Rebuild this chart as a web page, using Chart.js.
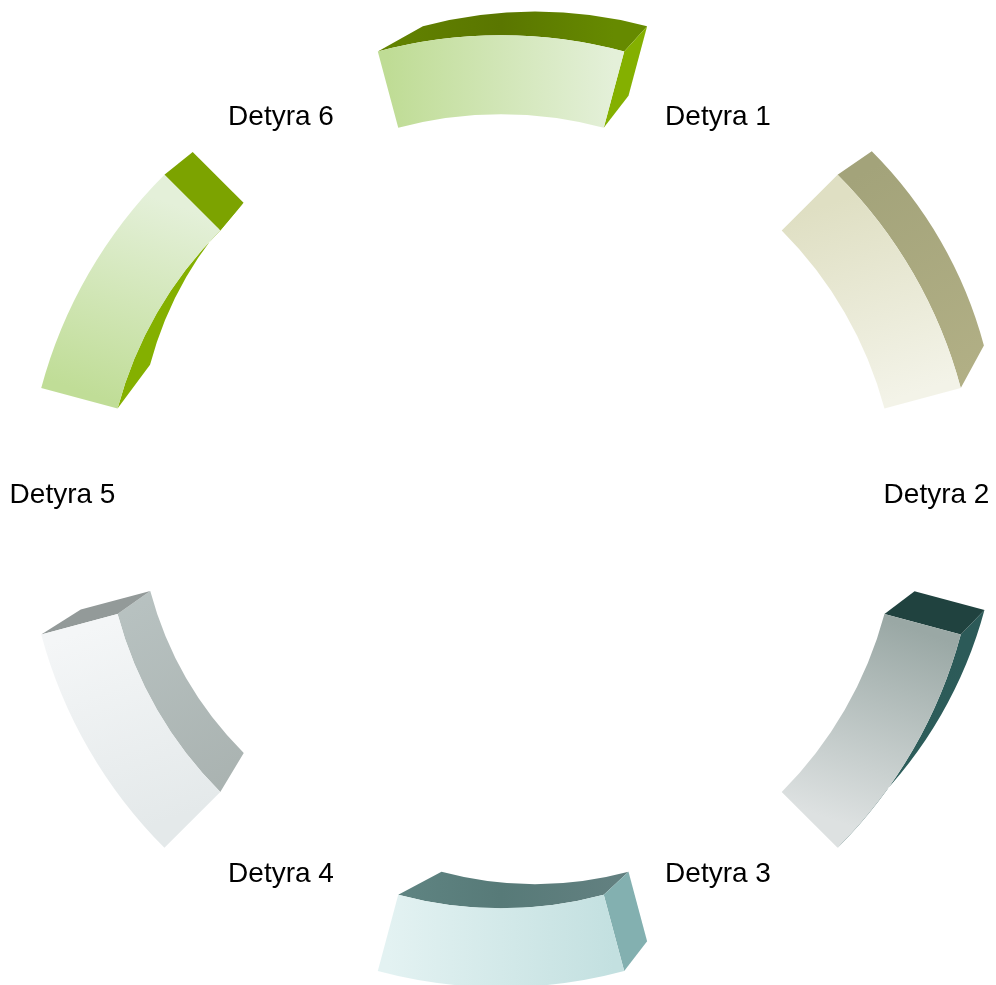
<!DOCTYPE html>
<html>
<head>
<meta charset="utf-8">
<style>
html,body{margin:0;padding:0;background:#fff;overflow:hidden}
canvas{display:block}
</style>
<script src="https://cdn.jsdelivr.net/npm/chart.js@4"></script>
</head>
<body>
<canvas id="c" width="996" height="985"></canvas>
<script>
const categories = ['Detyra 1','Detyra 2','Detyra 3','Detyra 4','Detyra 5','Detyra 6'];
const segmentValues = [1,1,1,1,1,1];
const gapValues = [1,1,1,1,1,1];

// front-face gradients, from slice start angle to slice end angle
const frontColors = [
  ['#bfdc95','#e4f0d9'],
  ['#dfdfc3','#f3f3e8'],
  ['#9aa8a5','#dde1e1'],
  ['#c3e0e0','#e3f2f2'],
  ['#e4e9ea','#f4f6f7'],
  ['#c0dd97','#e4f0d9']
];
// how much of the horizontal run each front gradient keeps
const gradientLean = [1,0.6,0.6,1,0.6,0.6];
// side faces of each extruded slice (null: hidden)
const outerFaceColors = [['#628200','#5a7600','#668a00'],['#a3a37a','#b1af85'],['#2c5a58','#2e5f5c'],null,null,null];
const innerFaceColors = [null,null,null,['#628080','#577a78','#608583'],['#a9b2b0','#b8c2c1'],['#84b000','#84b000']];
const startCapColors = [null,null,'#20423f','#83b0b0',null,null];
const endCapColors = ['#84b000',null,null,null,'#939a99','#7ca300'];
// where the far side of each slice sits relative to its near side
const depthShiftX = [34,64.5,62.3,34,-1.8,-2];
const depthShiftY = [-66.5,-53.6,-14,11.5,-13.8,-53];
const depthScale = [0.91,0.91,0.916,0.91,0.91,0.91];
const labelRadius = 437, labelShiftX = -1.5, labelShiftY = -15.7;

const sliceValues = segmentValues.flatMap((v,i)=>[v,gapValues[i]]);
const sliceLabels = categories.flatMap(c=>['',c]);

function grad(ctx,x0,y0,x1,y1,stops){
  const g = ctx.createLinearGradient(x0,y0,x1,y1);
  stops.forEach((s,i)=>g.addColorStop(i/(stops.length-1),s));
  return g;
}

const ring3d = {
  id:'ring3d',
  beforeDatasetsDraw(chart){
    const ctx = chart.ctx;
    const arcs = chart.getDatasetMeta(0).data;
    categories.forEach((_,i)=>{
      const arc = arcs[i*2];
      const {x,y,startAngle:a0,endAngle:a1,innerRadius:ri,outerRadius:ro} = arc.getProps(['x','y','startAngle','endAngle','innerRadius','outerRadius'],true);
      const bx = x+depthShiftX[i], by = y+depthShiftY[i];
      const bo = ro*depthScale[i], bi = ri*depthScale[i];
      const pt = (cx,cy,r,a)=>[cx+r*Math.cos(a),cy+r*Math.sin(a)];
      const rm = (ro+ri)/2;
      const [sx,sy] = pt(x,y,rm,a0), [ex,ey] = pt(x,y,rm,a1);
      // front face gradient follows the slice, leaning towards the vertical
      const mx = (sx+ex)/2, hw = (ex-sx)/2*gradientLean[i];
      arc.options = Object.assign({},arc.options,{backgroundColor:grad(ctx,mx-hw,sy,mx+hw,ey,frontColors[i]),borderWidth:0});
      ctx.save();
      const fillFace = (fill,path)=>{ctx.beginPath();path();ctx.closePath();ctx.fillStyle=fill;ctx.fill();};
      const band = (r,br,stops)=>fillFace(grad(ctx,sx,sy,ex,ey,stops),()=>{
        ctx.arc(x,y,r,a0,a1);
        ctx.arc(bx,by,br,a1,a0,true);
      });
      const cap = (a,col)=>fillFace(col,()=>{
        ctx.moveTo(...pt(x,y,ro,a));
        ctx.lineTo(...pt(bx,by,bo,a));
        ctx.lineTo(...pt(bx,by,bi,a));
        ctx.lineTo(...pt(x,y,ri,a));
      });
      if(outerFaceColors[i]) band(ro,bo,outerFaceColors[i]);
      if(innerFaceColors[i]) band(ri,bi,innerFaceColors[i]);
      if(startCapColors[i]) cap(a0,startCapColors[i]);
      if(endCapColors[i]) cap(a1,endCapColors[i]);
      ctx.restore();
    });
  },
  afterDatasetsDraw(chart){
    const ctx = chart.ctx;
    const arcs = chart.getDatasetMeta(0).data;
    ctx.save();
    ctx.font = '28px "Liberation Sans", Arial, sans-serif';
    ctx.fillStyle = '#000';
    ctx.textAlign = 'center';
    ctx.textBaseline = 'middle';
    categories.forEach((c,i)=>{
      const arc = arcs[i*2+1];
      const a = (arc.startAngle+arc.endAngle)/2;
      ctx.fillText(c, arc.x+labelShiftX+labelRadius*Math.cos(a), arc.y+labelShiftY+labelRadius*Math.sin(a));
    });
    ctx.restore();
  }
};

new Chart(document.getElementById('c'),{
  type:'doughnut',
  data:{
    labels:sliceLabels,
    datasets:[{
      data:sliceValues,
      backgroundColor:'rgba(0,0,0,0)',
      borderWidth:0,
      hoverOffset:0,
      radius:476,
      cutout:'83.4%',
      clip:false
    }]
  },
  options:{
    responsive:false,
    animation:false,
    rotation:-15,
    cutout:'83.4%',
    layout:{padding:{left:6,top:37.5,right:0,bottom:0}},
    plugins:{legend:{display:false},tooltip:{enabled:false}}
  },
  plugins:[ring3d]
});
</script>
</body>
</html>
